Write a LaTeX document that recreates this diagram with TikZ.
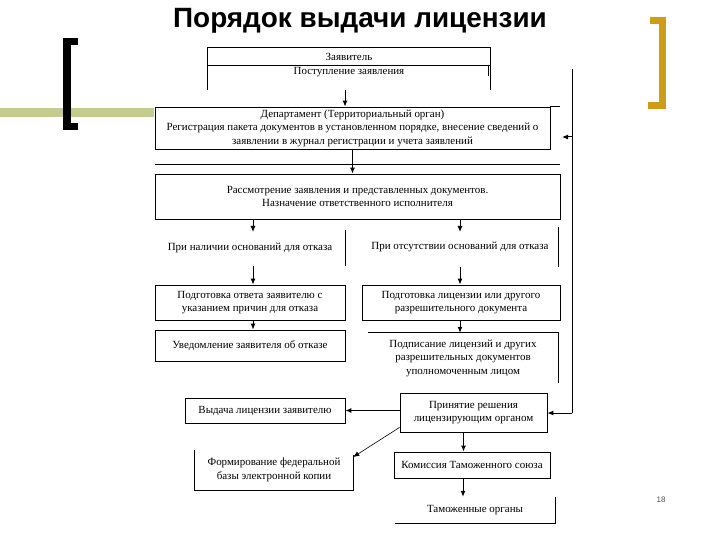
\documentclass[tikz,border=0pt]{standalone}
\usepackage{fontspec}
\setmainfont{Liberation Serif}
\newfontfamily\titlefont{Liberation Sans}
\usetikzlibrary{arrows.meta}
\definecolor{olivebar}{RGB}{196,204,148}
\definecolor{goldbar}{RGB}{206,156,22}
\begin{document}
\begin{tikzpicture}[x=1bp,y=-1bp,
  every node/.style={font=\fontsize{11}{13.5}\selectfont, inner sep=0pt, align=center},
  ln/.style={line width=0.8bp, black},
  arr/.style={line width=1bp, black, -{Latex[length=6bp,width=5bp]}},
  fr/.style={draw, line width=0.8bp},
]
\useasboundingbox (0,0) rectangle (720,540);
% decorations
\fill[olivebar] (0,108) rectangle (154,117);
\fill[black] (63,38) rectangle (78,45);
\fill[black] (63,38) rectangle (71,130);
\fill[black] (63,123) rectangle (78,130);
\fill[goldbar] (650,17) rectangle (666,24);
\fill[goldbar] (659,17) rectangle (666,109);
\fill[goldbar] (648,102) rectangle (666,109);
\node (title) at (360,21) {\titlefont\bfseries\fontsize{28}{30}\selectfont Порядок выдачи лицензии};
\node[font=\titlefont\fontsize{8}{9}\selectfont, text=black!70] (pg) at (661,500) {18};

% Заявитель
\node[minimum width=282bp, minimum height=42bp] (zbox) at (349,69) {};
\node (zay) at (349,57) {Заявитель};
\node (post) at (349,72.5) {Поступление заявления};
\coordinate (zsep) at (349,65);
\draw[ln] (zbox.south west) -- (zbox.north west) -- (zbox.north east) -- (zbox.south east);
\draw[ln] (zbox.west |- zsep) -- (zbox.east |- zsep);
\draw[ln] ([xshift=-2bp]zbox.east |- zsep) -- ++(0,11);

% Департамент
\node[fr, minimum width=395bp, minimum height=42bp] (dep) at (352.5,128)
  {Департамент (Территориальный орган)\\Регистрация пакета документов в установленном порядке, внесение сведений о\\заявлении в журнал регистрации и учета заявлений};
\draw[ln] (dep.north east) -- ++(10,0);
\coordinate (sep2) at (560,164);
\draw[ln] (dep.west |- sep2) -- (sep2);

% Рассмотрение
\node[fr, minimum width=405bp, minimum height=45bp] (ras) at (357.5,196.5)
  {Рассмотрение заявления и представленных документов.\\Назначение ответственного исполнителя};

% ветви
\node[minimum width=190bp, minimum height=36bp] (nal) at (250,248) {При наличии оснований для отказа};
\node[minimum width=196bp, minimum height=40bp] (ots) at (460,247) {При отсутствии оснований для отказа};
\draw[ln] (nal.north east) -- (nal.south east);
\draw[ln] (ots.north east) -- (ots.south east);

\node[fr, minimum width=190bp, minimum height=35bp] (podg1) at (250,302.5)
  {Подготовка ответа заявителю с\\указанием причин для отказа};
\node[fr, minimum width=198bp, minimum height=35bp] (podg2) at (461,302.5)
  {Подготовка лицензии или другого\\разрешительного документа};
\node[fr, minimum width=190bp, minimum height=31bp] (uved) at (250,345.5)
  {Уведомление заявителя об отказе};
\node[minimum width=190bp, minimum height=50bp] (podp) at (463,358)
  {Подписание лицензий и других\\разрешительных документов\\уполномоченным лицом};
\draw[ln] (podp.north west) -- (podp.north east) -- (podp.south east);

% нижняя часть
\node[fr, minimum width=160bp, minimum height=25bp] (vyd) at (265,410.5) {Выдача лицензии заявителю};
\node[fr, minimum width=147bp, minimum height=39bp] (prin) at (473.5,412.5)
  {Принятие решения\\лицензирующим органом};
\node[minimum width=158bp, minimum height=40bp] (form) at (274,470)
  {Формирование федеральной\\базы электронной копии};
\draw[ln] (form.north west) -- (form.south west) -- (form.south east) -- ([yshift=-5bp]form.north east);
\node[fr, minimum width=156bp, minimum height=26bp] (kom) at (472,465) {Комиссия Таможенного союза};
\node[minimum width=160bp, minimum height=26bp] (tam) at (475,510) {Таможенные органы};
\draw[ln] (tam.south west) -- (tam.south east) -- (tam.north east);

% обратная линия
\coordinate (fbtop) at (572,69);
\coordinate (fbmid) at (572,137);
\coordinate (fbbot) at (572,413);
\draw[ln] (fbtop) -- (fbbot);
\draw[arr] (fbmid) -- ++(-10,0);
\draw[arr] (fbbot) -- (fbbot -| prin.east);

% стрелки
\draw[arr] ([xshift=-4bp]zbox.south) -- ([xshift=-4bp]zbox.south |- dep.north);
\draw[arr] (dep.south) -- (dep.south |- ras.north);
\draw[arr] (ras.south -| 253,0) -- (253,232);
\draw[arr] (ras.south -| 460,0) -- (460,232);
\draw[arr] (nal.south -| 253,0) -- (253,0 |- podg1.north);
\draw[arr] (ots.south -| 460,0) -- (460,0 |- podg2.north);
\draw[arr] (podg1.south -| 253,0) -- (253,0 |- uved.north);
\draw[arr] (podg2.south -| 460,0) -- (460,0 |- podp.north);
\draw[arr] (prin.west |- vyd.east) -- (vyd.east);
\draw[arr, line width=0.6bp] ([yshift=5bp]prin.south west) -- ([yshift=13bp]form.east);
\draw[arr] ([xshift=-10bp]prin.south) -- ([xshift=-10bp]prin.south |- kom.north);
\draw[arr] ([xshift=-9bp]kom.south) -- ([xshift=-9bp]kom.south |- tam.north);
\end{tikzpicture}
\end{document}
